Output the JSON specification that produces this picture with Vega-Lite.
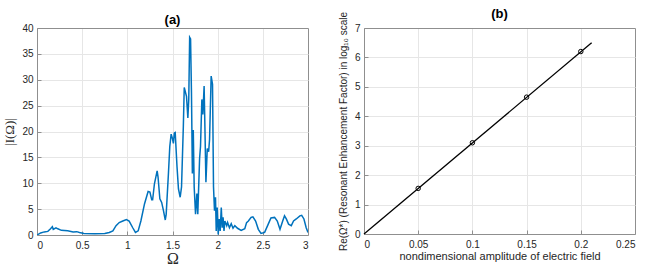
{
  "$schema": "https://vega.github.io/schema/vega-lite/v6.json",
  "padding": {"left": 3, "top": 7, "right": 5, "bottom": 0},
  "background": "white",
  "spacing": 29,
  "config": {
    "view": {"stroke": null},
    "axis": {
      "grid": true,
      "gridWidth": 1,
      "domain": true,
      "domainColor": "#8f8f8f",
      "domainWidth": 1,
      "tickColor": "#8f8f8f",
      "tickSize": -4,
      "labelFont": "Liberation Sans",
      "labelFontSize": 10,
      "labelColor": "#262626",
      "titleColor": "#262626",
      "titleFontWeight": "normal"
    },
    "title": {"font": "Liberation Sans", "fontSize": 13, "fontWeight": "bold", "color": "#000000", "offset": 4, "anchor": "middle"}
  },
  "hconcat": [
    {
      "title": {"text": "(a)", "offset": -4},
      "width": 271,
      "height": 207,
      "data": {"values": [
        {"w": 0.0, "I": 0.0}, {"w": 0.04, "I": 0.4}, {"w": 0.08, "I": 0.6}, {"w": 0.12, "I": 0.7},
        {"w": 0.15, "I": 1.2}, {"w": 0.17, "I": 1.6}, {"w": 0.18, "I": 1.1}, {"w": 0.21, "I": 1.4},
        {"w": 0.23, "I": 1.2}, {"w": 0.27, "I": 0.9}, {"w": 0.34, "I": 0.8}, {"w": 0.40, "I": 0.6},
        {"w": 0.44, "I": 0.65}, {"w": 0.47, "I": 0.5}, {"w": 0.52, "I": 0.3}, {"w": 0.64, "I": 0.25},
        {"w": 0.75, "I": 0.3}, {"w": 0.80, "I": 0.5}, {"w": 0.84, "I": 0.8}, {"w": 0.875, "I": 1.8},
        {"w": 0.91, "I": 2.4}, {"w": 0.95, "I": 2.7}, {"w": 0.99, "I": 3.0}, {"w": 1.02, "I": 2.7},
        {"w": 1.06, "I": 1.4}, {"w": 1.09, "I": 0.5}, {"w": 1.12, "I": 0.8}, {"w": 1.15, "I": 2.7},
        {"w": 1.19, "I": 6.0}, {"w": 1.23, "I": 8.4}, {"w": 1.25, "I": 8.3}, {"w": 1.27, "I": 6.8},
        {"w": 1.28, "I": 6.8}, {"w": 1.30, "I": 9.9}, {"w": 1.33, "I": 12.4}, {"w": 1.34, "I": 11.2},
        {"w": 1.36, "I": 7.0}, {"w": 1.38, "I": 6.3}, {"w": 1.40, "I": 4.7}, {"w": 1.42, "I": 2.9},
        {"w": 1.43, "I": 4.0}, {"w": 1.455, "I": 11.9}, {"w": 1.47, "I": 17.1}, {"w": 1.485, "I": 19.5},
        {"w": 1.50, "I": 18.6}, {"w": 1.51, "I": 17.7}, {"w": 1.52, "I": 19.7}, {"w": 1.53, "I": 19.8},
        {"w": 1.55, "I": 13.2}, {"w": 1.566, "I": 8.9}, {"w": 1.585, "I": 7.3}, {"w": 1.60, "I": 9.3},
        {"w": 1.62, "I": 21.0}, {"w": 1.63, "I": 28.5}, {"w": 1.655, "I": 26.8}, {"w": 1.67, "I": 22.6},
        {"w": 1.68, "I": 26.2}, {"w": 1.69, "I": 38.2}, {"w": 1.70, "I": 37.9}, {"w": 1.71, "I": 27.5},
        {"w": 1.72, "I": 11.9}, {"w": 1.73, "I": 20.3}, {"w": 1.74, "I": 9.3}, {"w": 1.755, "I": 4.0},
        {"w": 1.77, "I": 8.0}, {"w": 1.78, "I": 4.0}, {"w": 1.80, "I": 14.8}, {"w": 1.81, "I": 17.1},
        {"w": 1.825, "I": 26.2}, {"w": 1.836, "I": 23.3}, {"w": 1.85, "I": 28.8}, {"w": 1.86, "I": 19.7},
        {"w": 1.87, "I": 10.2}, {"w": 1.885, "I": 16.7}, {"w": 1.90, "I": 16.1}, {"w": 1.91, "I": 18.4},
        {"w": 1.928, "I": 30.7}, {"w": 1.943, "I": 29.1}, {"w": 1.954, "I": 9.3}, {"w": 1.965, "I": 4.7},
        {"w": 1.976, "I": 7.3}, {"w": 1.984, "I": 0.8}, {"w": 1.995, "I": 5.3}, {"w": 2.006, "I": 0.1},
        {"w": 2.017, "I": 3.1}, {"w": 2.028, "I": 0.8}, {"w": 2.04, "I": 5.3}, {"w": 2.05, "I": 1.4},
        {"w": 2.06, "I": 3.4}, {"w": 2.07, "I": 0.8}, {"w": 2.08, "I": 2.7}, {"w": 2.10, "I": 1.8},
        {"w": 2.11, "I": 2.4}, {"w": 2.13, "I": 1.4}, {"w": 2.15, "I": 2.2}, {"w": 2.17, "I": 1.3},
        {"w": 2.19, "I": 1.8}, {"w": 2.22, "I": 1.3}, {"w": 2.26, "I": 0.9}, {"w": 2.30, "I": 1.2},
        {"w": 2.32, "I": 2.4}, {"w": 2.34, "I": 2.7}, {"w": 2.37, "I": 3.4}, {"w": 2.39, "I": 3.5},
        {"w": 2.42, "I": 2.7}, {"w": 2.45, "I": 1.1}, {"w": 2.48, "I": 0.3}, {"w": 2.52, "I": 0.5},
        {"w": 2.56, "I": 2.1}, {"w": 2.59, "I": 3.3}, {"w": 2.63, "I": 3.4}, {"w": 2.66, "I": 2.7},
        {"w": 2.69, "I": 1.1}, {"w": 2.72, "I": 2.7}, {"w": 2.74, "I": 3.7}, {"w": 2.76, "I": 3.1},
        {"w": 2.785, "I": 2.1}, {"w": 2.815, "I": 1.8}, {"w": 2.84, "I": 2.7}, {"w": 2.87, "I": 3.1},
        {"w": 2.91, "I": 3.7}, {"w": 2.93, "I": 3.8}, {"w": 2.955, "I": 3.1}, {"w": 2.98, "I": 1.4},
        {"w": 3.0, "I": 0.5}
      ]},
      "mark": {"type": "line", "color": "#0072BD", "strokeWidth": 1.5, "clip": true},
      "encoding": {
        "x": {"field": "w", "type": "quantitative",
              "scale": {"domain": [0, 3], "nice": false, "zero": false},
              "axis": {"values": [0, 0.5, 1, 1.5, 2, 2.5, 3], "format": "~g", "title": "Ω",
                       "gridColor": {"condition": {"test": "datum.value === 3", "value": "#8f8f8f"}, "value": "#e6e6e6"},
                       "titleFont": "Liberation Serif", "titleFontSize": 16, "labelPadding": 9, "titlePadding": 0}},
        "y": {"field": "I", "type": "quantitative",
              "scale": {"domain": [0, 40], "nice": false},
              "axis": {"values": [0, 5, 10, 15, 20, 25, 30, 35, 40], "title": "|I(Ω)|",
                       "gridColor": {"condition": {"test": "datum.value === 40", "value": "#8f8f8f"}, "value": "#e6e6e6"},
                       "titleFont": "Liberation Serif", "titleFontSize": 13, "labelPadding": 8, "titlePadding": 5}}
      }
    },
    {
      "title": {"text": "(b)", "offset": -9},
      "width": 271,
      "height": 206,
      "encoding": {
        "x": {"field": "a", "type": "quantitative",
              "scale": {"domain": [0, 0.25], "nice": false},
              "axis": {"values": [0, 0.05, 0.1, 0.15, 0.2, 0.25], "format": "~g",
                       "gridColor": {"condition": {"test": "datum.value === 0.25", "value": "#8f8f8f"}, "value": "#e6e6e6"},
                       "title": "nondimensional amplitude of electric field",
                       "titleFont": "Liberation Sans", "titleFontSize": 11, "labelPadding": 9, "titlePadding": 1}},
        "y": {"field": "r", "type": "quantitative",
              "scale": {"domain": [0, 7], "nice": false},
              "axis": {"values": [0, 1, 2, 3, 4, 5, 6, 7],
                       "gridColor": {"condition": {"test": "datum.value === 7", "value": "#8f8f8f"}, "value": "#e6e6e6"},
                       "title": "Re(Ω*) (Resonant Enhancement Factor) in log₁₀ scale",
                       "titleFont": "Liberation Sans", "titleFontSize": 10, "labelPadding": 8, "titlePadding": 6}}
      },
      "layer": [
        {
          "data": {"values": [{"a": 0, "r": 0}, {"a": 0.21, "r": 6.5}]},
          "mark": {"type": "line", "color": "#000000", "strokeWidth": 1.3}
        },
        {
          "data": {"values": [
            {"a": 0.05, "r": 1.55}, {"a": 0.1, "r": 3.1}, {"a": 0.15, "r": 4.65}, {"a": 0.2, "r": 6.2}
          ]},
          "mark": {"type": "point", "shape": "circle", "filled": false, "color": "#000000", "size": 20, "strokeWidth": 1, "opacity": 1}
        }
      ]
    }
  ]
}
